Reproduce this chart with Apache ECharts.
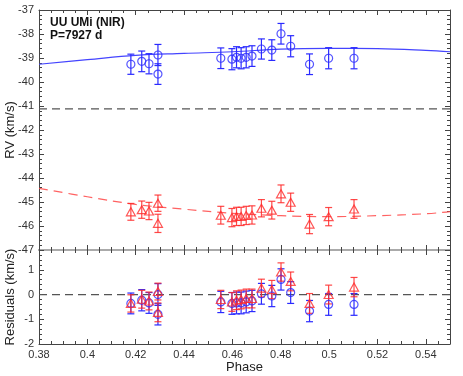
<!DOCTYPE html>
<html><head><meta charset="utf-8">
<script src="https://cdn.jsdelivr.net/npm/echarts@6/dist/echarts.min.js"></script>
<style>html,body{margin:0;padding:0;background:#fff}#c{width:463px;height:376px}</style>
</head><body><div id="c"></div>
<script>
// ---- data ----
const phases = [0.4180, 0.4225, 0.4255, 0.4292, 0.4292, 0.4552, 0.4598, 0.4617, 0.4636, 0.4657, 0.4681, 0.4720, 0.4763, 0.4801, 0.4841, 0.4919, 0.4998, 0.5103];
const rvBlue   = [-39.26, -39.14, -39.24, -38.875, -39.67, -39.01, -39.05, -38.97, -39.01, -38.97, -38.92, -38.625, -38.67, -37.99, -38.51, -39.26, -39.01, -39.01];
const errBlue  = [0.42, 0.43, 0.42, 0.44, 0.43, 0.43, 0.44, 0.44, 0.44, 0.44, 0.43, 0.42, 0.43, 0.43, 0.44, 0.43, 0.44, 0.44];
const rvRed    = [-45.41, -45.32, -45.375, -45.05, -45.89, -45.55, -45.65, -45.60, -45.60, -45.56, -45.54, -45.26, -45.34, -44.66, -45.01, -45.92, -45.61, -45.29];
const errRed   = [0.35, 0.36, 0.36, 0.34, 0.38, 0.37, 0.38, 0.38, 0.38, 0.38, 0.38, 0.36, 0.37, 0.37, 0.38, 0.40, 0.38, 0.39];
const resBlue  = [-0.36, -0.23, -0.34, 0.00, -0.80, -0.30, -0.36, -0.34, -0.34, -0.30, -0.26, 0.03, -0.06, 0.61, 0.08, -0.67, -0.40, -0.40];
const resRed   = [-0.36, -0.19, -0.26, 0.12, -0.72, -0.20, -0.30, -0.23, -0.20, -0.16, -0.16, 0.26, 0.20, 0.91, 0.53, -0.36, 0.00, 0.30];
const fitPhase = [0.38, 0.40, 0.42, 0.44, 0.46, 0.48, 0.50, 0.52, 0.54, 0.55];
const fitBlue  = [-39.26, -39.07, -38.89, -38.81, -38.74, -38.63, -38.60, -38.61, -38.68, -38.74];
const fitRed   = [-44.43, -44.78, -45.10, -45.30, -45.47, -45.57, -45.61, -45.57, -45.49, -45.40];
const gamma = -41.12;
const titleLines = ['UU UMi (NIR)', 'P=7927 d'];

const BLUE = '#2a2aff', RED = '#ff2a2a', FRAME = '#444';
const FONT = 'Liberation Sans';

function xAx(grid, pos, labels, lineColor, lineWidth, name) {
  return {
    type: 'value', gridIndex: grid, position: pos, min: 0.38, max: 0.55, interval: 0.02,
    axisLine: { show: true, onZero: false, lineStyle: { color: lineColor, width: lineWidth } },
    axisTick: { show: true, inside: true, length: 5, lineStyle: { color: FRAME } },
    minorTick: { show: true, splitNumber: 4, length: 3, lineStyle: { color: FRAME } },
    splitLine: { show: false }, minorSplitLine: { show: false },
    axisLabel: { show: labels, showMaxLabel: false, margin: 5, fontSize: 11, color: '#333', fontFamily: FONT },
    name: name || '', nameLocation: 'middle', nameGap: 17, nameMoveOverlap: false,
    nameTextStyle: { fontSize: 13, color: '#222', fontFamily: FONT }
  };
}
function yAx(grid, pos, labels, min, max, name, showMax) {
  return {
    type: 'value', gridIndex: grid, position: pos, min: min, max: max, interval: 1,
    axisLine: { show: true, onZero: false, lineStyle: { color: FRAME, width: 1 } },
    axisTick: { show: true, inside: true, length: 5, lineStyle: { color: FRAME } },
    minorTick: { show: true, splitNumber: 5, length: 3, lineStyle: { color: FRAME } },
    splitLine: { show: false }, minorSplitLine: { show: false },
    axisLabel: { show: labels, showMaxLabel: showMax, margin: 5, fontSize: 11, color: '#333', fontFamily: FONT },
    name: name || '', nameLocation: 'middle', nameGap: 22, nameMoveOverlap: false,
    nameTextStyle: { fontSize: 13, color: '#222', fontFamily: FONT }
  };
}
function errSeries(xi, yi, xs, ys, es, color) {
  return {
    type: 'custom', xAxisIndex: xi, yAxisIndex: yi, silent: true, z: 3,
    data: xs.map((x, i) => [x, ys[i], es[i]]),
    renderItem(params, api) {
      const x = api.value(0), y = api.value(1), e = api.value(2);
      const lo = api.coord([x, y - e]), hi = api.coord([x, y + e]);
      const w = 3.5, st = { stroke: color, lineWidth: 1.2 };
      return { type: 'group', children: [
        { type: 'line', shape: { x1: lo[0], y1: lo[1], x2: hi[0], y2: hi[1] }, style: st },
        { type: 'line', shape: { x1: lo[0] - w, y1: lo[1], x2: lo[0] + w, y2: lo[1] }, style: st },
        { type: 'line', shape: { x1: hi[0] - w, y1: hi[1], x2: hi[0] + w, y2: hi[1] }, style: st }
      ] };
    }
  };
}
function pts(xi, yi, xs, ys, color, sym) {
  return {
    type: 'scatter', xAxisIndex: xi, yAxisIndex: yi, z: 4, silent: true,
    symbol: sym, symbolSize: sym === 'triangle' ? [9, 8] : 8,
    itemStyle: { color: 'transparent', borderColor: color, borderWidth: 1.2 },
    data: xs.map((x, i) => [x, ys[i]])
  };
}
function hline(xi, yi, v) {
  return {
    type: 'line', xAxisIndex: xi, yAxisIndex: yi, showSymbol: false, silent: true, z: 2,
    lineStyle: { color: '#555', width: 1.2, type: [8, 5] },
    data: [[0.38, v], [0.55, v]]
  };
}

const chart = echarts.init(document.getElementById('c'), null, { renderer: 'canvas' });
chart.setOption({
  animation: false,
  backgroundColor: '#fff',
  title: {
    text: titleLines.join('\n'), left: 50, top: 16, padding: 0,
    textStyle: { fontSize: 12, fontWeight: 'bold', lineHeight: 13, color: '#111', fontFamily: FONT }
  },
  grid: [
    { left: 39, right: 13, top: 10, height: 240, outerBoundsMode: 'none', containLabel: false },
    { left: 39, right: 13, top: 250, height: 94, outerBoundsMode: 'none', containLabel: false }
  ],
  xAxis: [
    xAx(0, 'bottom', false, '#aaa', 2),
    xAx(0, 'top', false, FRAME, 1),
    xAx(1, 'bottom', true, FRAME, 1, 'Phase'),
    xAx(1, 'top', false, '#aaa', 2)
  ],
  yAxis: [
    yAx(0, 'left', true, -47, -37, 'RV (km/s)', true),
    yAx(0, 'right', false, -47, -37),
    yAx(1, 'left', true, -2, 1.8, 'Residuals (km/s)', false),
    yAx(1, 'right', false, -2, 1.8)
  ],
  series: [
    hline(0, 0, gamma),
    { type: 'line', xAxisIndex: 0, yAxisIndex: 0, smooth: 0.4, showSymbol: false, silent: true, z: 2,
      lineStyle: { color: '#4444ff', width: 1.2 }, data: fitPhase.map((p, i) => [p, fitBlue[i]]) },
    { type: 'line', xAxisIndex: 0, yAxisIndex: 0, smooth: 0.4, showSymbol: false, silent: true, z: 2,
      lineStyle: { color: 'rgba(255,70,70,0.85)', width: 1.2, type: [9, 6] }, data: fitPhase.map((p, i) => [p, fitRed[i]]) },
    errSeries(0, 0, phases, rvBlue, errBlue, BLUE),
    pts(0, 0, phases, rvBlue, BLUE, 'circle'),
    errSeries(0, 0, phases, rvRed, errRed, 'rgba(255,40,40,0.85)'),
    pts(0, 0, phases, rvRed, RED, 'triangle'),
    hline(2, 2, 0),
    errSeries(2, 2, phases, resBlue, errBlue, BLUE),
    pts(2, 2, phases, resBlue, BLUE, 'circle'),
    errSeries(2, 2, phases, resRed, errRed, 'rgba(255,40,40,0.85)'),
    pts(2, 2, phases, resRed, RED, 'triangle')
  ]
});
</script>
</body></html>
